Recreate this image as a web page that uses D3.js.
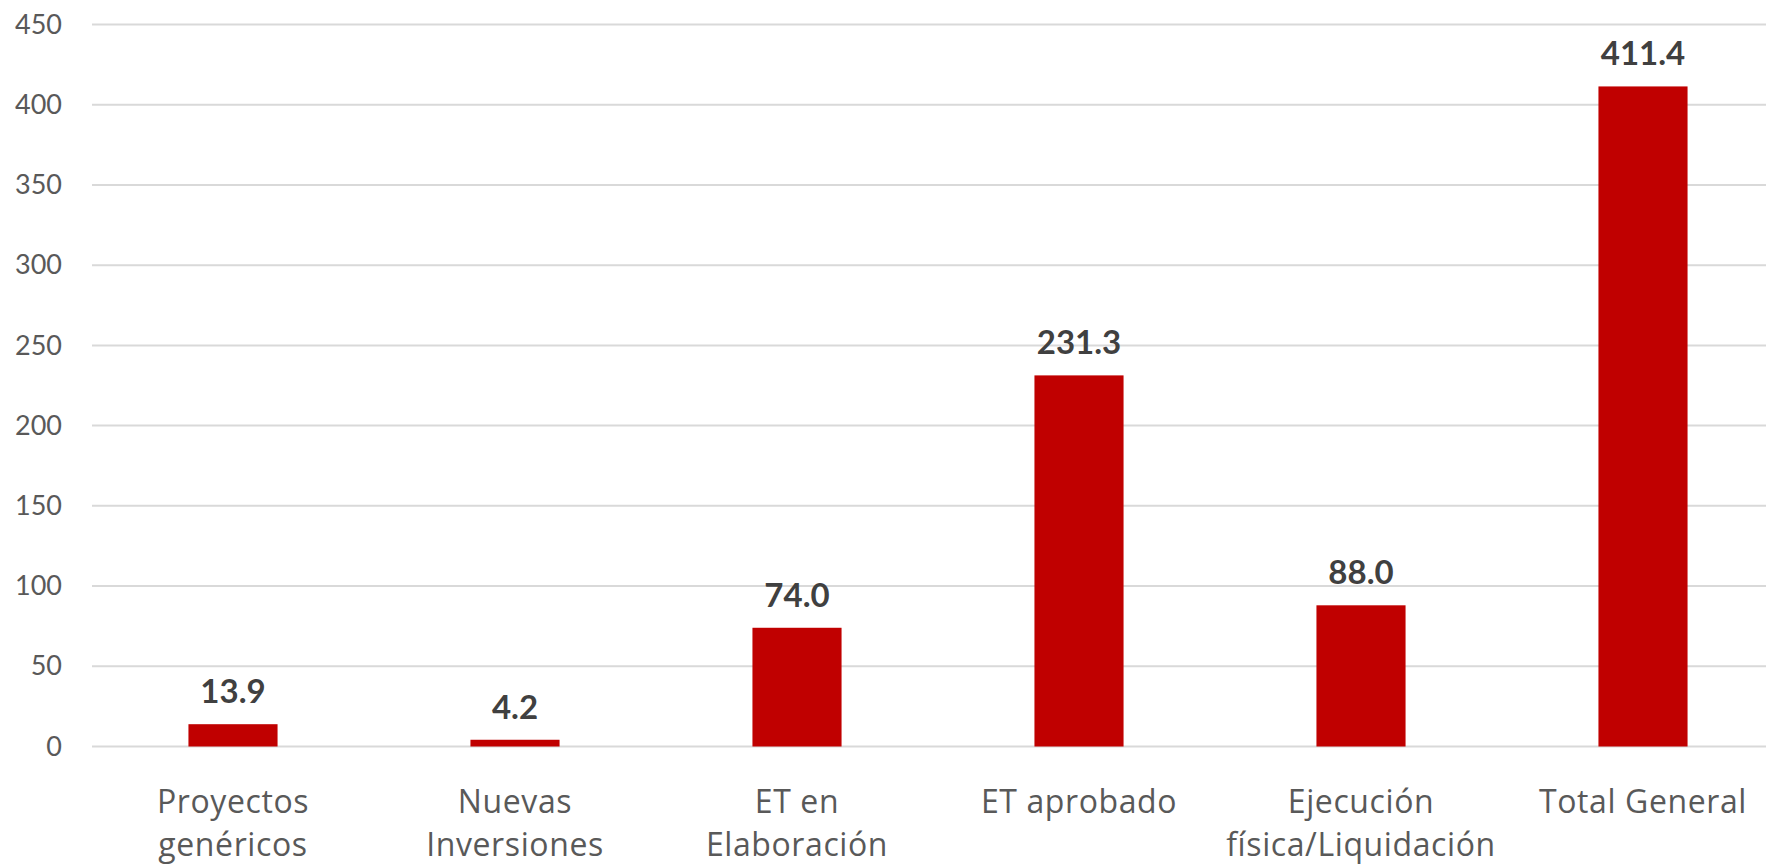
<!DOCTYPE html>
<html><head><meta charset="utf-8">
<script src="https://cdn.jsdelivr.net/npm/d3@7"></script>
<style>body{margin:0;background:#fff;}svg{display:block;}</style>
</head><body>
<svg id="c" width="1766" height="867"></svg>
<script>
const categories = ["Proyectos\ngenéricos", "Nuevas\nInversiones", "ET en\nElaboración", "ET aprobado", "Ejecución\nfísica/Liquidación", "Total General"];
const values = [13.9, 4.2, 74.0, 231.3, 88.0, 411.4];
const yTicks = [0, 50, 100, 150, 200, 250, 300, 350, 400, 450];

const svg = d3.select("#c");
const font = "Lato, 'Open Sans', sans-serif";
const font2 = "'Open Sans', Lato, sans-serif";
const x = d3.scaleBand().domain(categories).range([92, 1784]).paddingInner(0.684).paddingOuter(0.342);
const y = d3.scaleLinear().domain([0, 450]).range([746.5, 24.5]);

// gridlines
svg.append("g").selectAll("line").data(yTicks).join("line")
  .attr("x1", 92).attr("x2", 1766)
  .attr("y1", d => y(d)).attr("y2", d => y(d))
  .attr("stroke", "#d9d9d9").attr("stroke-width", 2);

// y axis labels
const yAxis = d3.axisLeft(y).tickValues(yTicks).tickSize(0).tickPadding(0).tickFormat(d3.format("d"));
const ya = svg.append("g").attr("transform", "translate(62,0)").call(yAxis);
ya.select(".domain").remove();
ya.selectAll("text").attr("font-family", font).attr("font-size", 27).attr("fill", "#595959");

// bars
svg.append("g").selectAll("rect").data(values).join("rect")
  .attr("x", (d, i) => x(categories[i])).attr("width", x.bandwidth())
  .attr("y", d => y(d)).attr("height", d => y(0) - y(d))
  .attr("fill", "#c00000");

// value labels
svg.append("g").selectAll("text").data(values).join("text")
  .attr("x", (d, i) => x(categories[i]) + x.bandwidth() / 2)
  .attr("y", d => y(d) - 21)
  .attr("text-anchor", "middle")
  .attr("font-family", font).attr("font-weight", "bold").attr("font-size", 33)
  .attr("fill", "#404040")
  .text(d => d.toFixed(1));

// category labels
const xa = svg.append("g");
categories.forEach(c => {
  const t = xa.append("text")
    .attr("x", x(c) + x.bandwidth() / 2).attr("y", 813)
    .attr("text-anchor", "middle")
    .attr("font-family", font2).attr("font-size", 32).attr("letter-spacing", 0.6).attr("fill", "#595959");
  c.split("\n").forEach((line, j) => {
    t.append("tspan").attr("x", x(c) + x.bandwidth() / 2).attr("dy", j === 0 ? 0 : 43).text(line);
  });
});
</script>
</body></html>
